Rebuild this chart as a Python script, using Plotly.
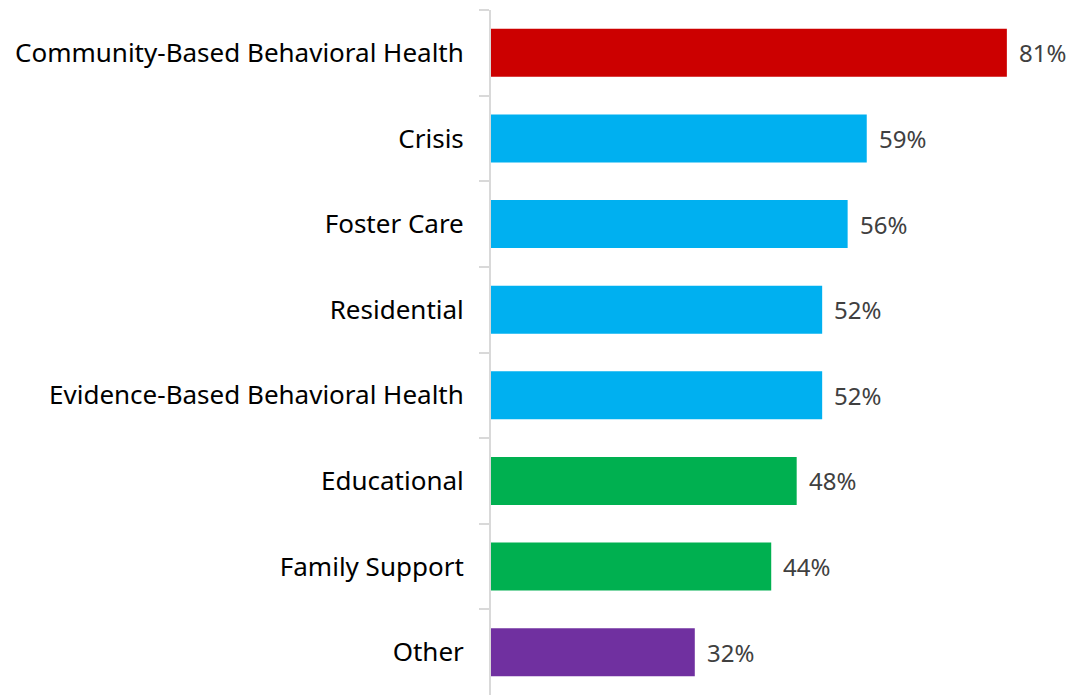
import plotly.graph_objects as go

categories = ["Community-Based Behavioral Health", "Crisis", "Foster Care", "Residential",
              "Evidence-Based Behavioral Health", "Educational", "Family Support", "Other"]
values = [81, 59, 56, 52, 52, 48, 44, 32]
colors = ["#CC0000", "#00B0F0", "#00B0F0", "#00B0F0", "#00B0F0", "#00B050", "#00B050", "#7030A0"]
value_labels = [f"{v}%" for v in values]

fig = go.Figure()
fig.add_trace(go.Bar(
    y=categories, x=values, orientation="h",
    marker=dict(color=colors, line=dict(width=0)),
    width=0.56, hoverinfo="skip",
))
for c, v, t in zip(categories, values, value_labels):
    fig.add_annotation(x=v, y=c, text=t, showarrow=False, xanchor="left", xshift=10,
                       font=dict(family="Noto Sans", size=24, color="#404040"))

fig.update_layout(
    width=1067, height=687,
    margin=dict(l=483, r=0, t=2, b=0),
    plot_bgcolor="white", paper_bgcolor="white",
    showlegend=False,
    font=dict(family="Noto Sans", size=26, color="#000000"),
)
fig.update_xaxes(range=[0, 91.7], visible=False)
fig.update_yaxes(autorange="reversed", showline=True, linecolor="#D9D9D9", linewidth=2,
                 ticks="outside", tickson="boundaries", ticklen=10, tickcolor="#D9D9D9",
                 tickwidth=2, showgrid=False, ticklabelstandoff=20,
                 tickfont=dict(family="Noto Sans", size=26, color="#000000"))
fig.write_html("out.html")
